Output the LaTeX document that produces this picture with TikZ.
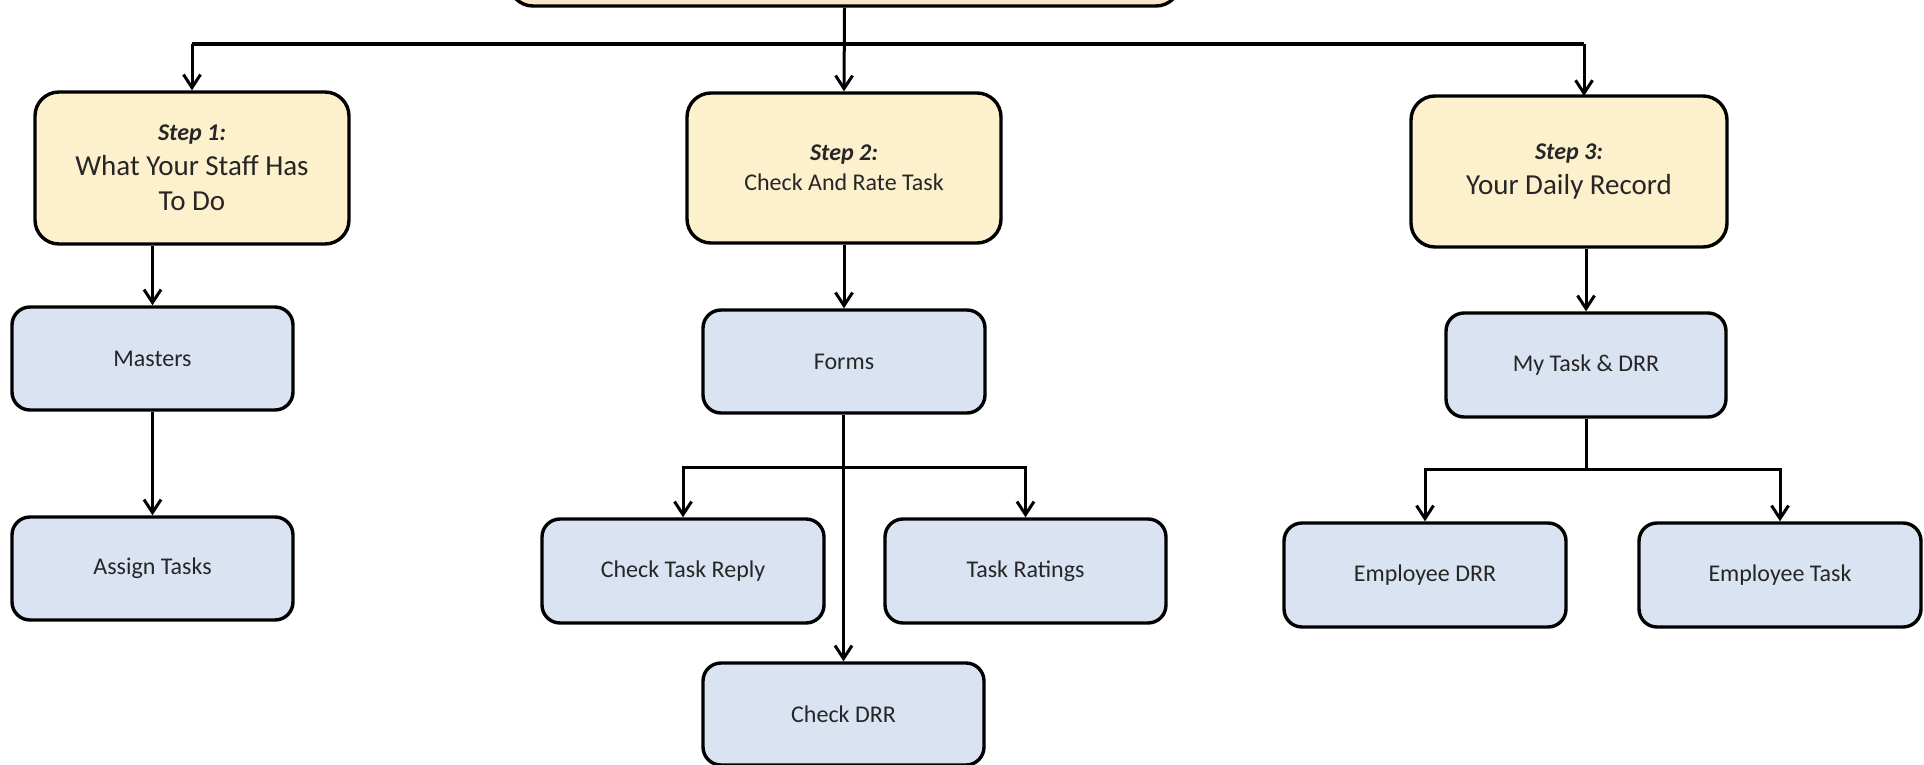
\documentclass[tikz,border=0pt]{standalone}
\usepackage{fontspec}
\setmainfont{Carlito}
\usetikzlibrary{arrows.meta}
\definecolor{stepfill}{HTML}{FDF0CC}
\definecolor{topfill}{HTML}{FBE4C8}
\definecolor{bluefill}{HTML}{DAE3F1}
\definecolor{txt}{HTML}{262626}
\tikzset{
  stepbox/.style={draw=black, line width=3.4pt, fill=stepfill, rounded corners=24pt,
    inner sep=0pt, align=center, text=txt, font=\fontsize{29}{35}\selectfont},
  bluebox/.style={draw=black, line width=3.4pt, fill=bluefill, rounded corners=18pt,
    inner sep=0pt, align=center, text=txt, font=\fontsize{24}{29}\selectfont,
    minimum width=281pt, minimum height=103pt},
  topbox/.style={draw=black, line width=3.4pt, fill=topfill, rounded corners=24pt, inner sep=0pt},
  conn/.style={draw=black, line width=3pt},
  arr/.style={conn, -{Straight Barb[length=13pt,width=17pt]}},
}
\newcommand{\steplabel}[1]{{\fontsize{24}{29}\selectfont\bfseries\itshape #1}}
\begin{document}
\begin{tikzpicture}[x=1pt,y=-1pt]
\useasboundingbox (0,0) rectangle (1924,765);
\fill[white] (0,0) rectangle (1924,765);
\begin{scope}
\clip (0,0) rectangle (1924,765);
% top box (cut off)
\node[topbox, minimum width=671pt, minimum height=70pt] (top) at (844.5,-29) {};

% step boxes
\node[stepbox, minimum width=314pt, minimum height=152pt] (s1) at (192,168)
  {\steplabel{Step 1:}\\What Your Staff Has\\To Do};
\node[stepbox, minimum width=314pt, minimum height=150pt, font=\fontsize{24}{30}\selectfont] (s2) at (844,168)
  {\steplabel{Step 2:}\\Check And Rate Task};
\node[stepbox, minimum width=316pt, minimum height=151pt] (s3) at (1569,171.5)
  {\steplabel{Step 3:}\\Your Daily Record};

% blue boxes
\node[bluebox] (masters) at (152.5,358.5) {Masters};
\node[bluebox] (assign) at (152.5,568.5) {Assign Tasks};
\node[bluebox, minimum width=282pt] (forms) at (844,361.5) {Forms};
\node[bluebox, minimum width=282pt, minimum height=104pt] (ctr) at (683,571) {Check Task Reply};
\node[bluebox, minimum width=281pt, minimum height=104pt] (tr) at (1025.5,571) {Task Ratings};
\node[bluebox, minimum width=281pt, minimum height=102pt] (cdrr) at (843.5,714) {Check DRR};
\node[bluebox, minimum width=280pt, minimum height=104pt] (mytask) at (1586,365) {My Task \& DRR};
\node[bluebox, minimum width=282pt, minimum height=104pt] (edrr) at (1425,575) {Employee DRR};
\node[bluebox, minimum width=282pt, minimum height=104pt] (etask) at (1780,575) {Employee Task};

% helper coordinates
\coordinate (bus) at (844,44);
\coordinate (s3in) at (1584,96);
\coordinate (fb) at (843.5,467);
\coordinate (mb) at (1586,469);

% top distribution
\draw[conn, line width=4pt] (bus -| s1.north) -- (bus -| s3in);
\draw[arr] (top.south) -- (s2.north);
\draw[arr] (bus -| s1.north) -- (s1.north);
\draw[arr] (bus -| s3in) -- (s3in);

% column 1
\draw[arr] (s1.south -| masters.north) -- (masters.north);
\draw[arr] (masters.south) -- (assign.north);

% column 2
\draw[arr] (s2.south -| forms.north) -- (forms.north);
\draw[arr] (forms.south -| cdrr.north) -- (cdrr.north);
\draw[arr] (fb) -| (ctr.north);
\draw[arr] (fb) -| (tr.north);

% column 3
\draw[arr] (s3.south -| mytask.north) -- (mytask.north);
\draw[conn] (mytask.south) -- (mb);
\draw[arr] (mb) -| (edrr.north);
\draw[arr] (mb) -| (etask.north);
\end{scope}
\end{tikzpicture}
\end{document}
